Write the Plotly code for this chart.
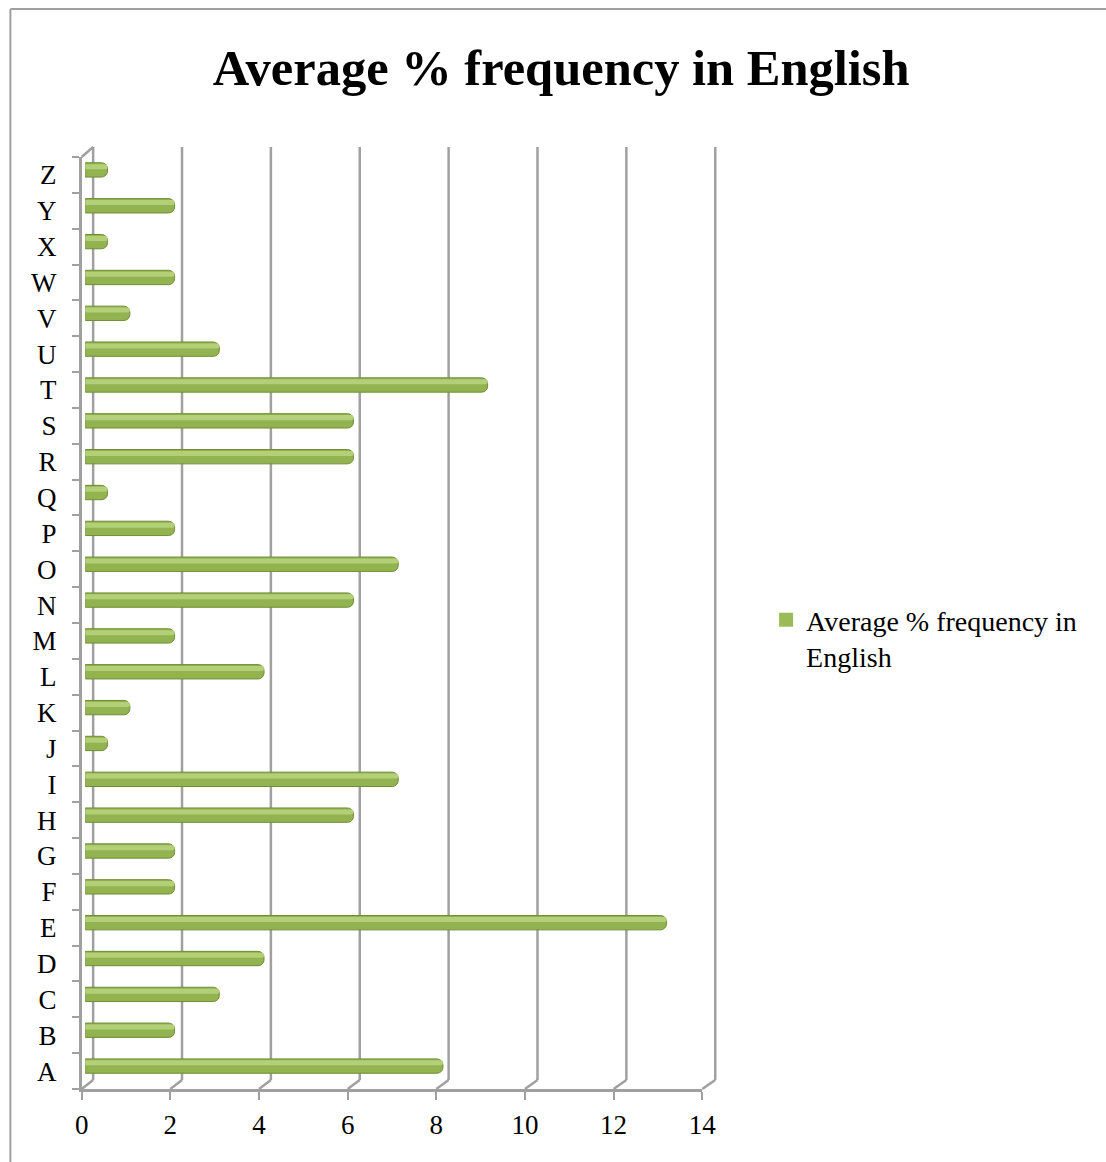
import plotly.graph_objects as go

letters = list("ABCDEFGHIJKLMNOPQRSTUVWXYZ")
freq = [8, 2, 3, 4, 13, 2, 2, 6, 7, 0.5, 1, 4, 2, 6, 7, 2, 0.5, 6, 6, 9, 3, 1, 2, 0.5, 2, 0.5]
x_ticks = [0, 2, 4, 6, 8, 10, 12, 14]

W, H = 1106, 1162
FONT = "Liberation Serif"
GRID = "#a0a0a0"

# horizontal calibration of the capture (image x = SX * page x + DX)
SX, DX = 0.984, 5.6


def px(img_x):
    return ((img_x - DX) / SX) / W


def py(img_y):
    return 1 - img_y / H


XMAX = 14
mid_x = (84, 712)
back_x = (92, 716)
front_x = (80.5, 703)
mid_y = (152, 1084)
back_y = (147, 1080)
front_y = (157, 1089)


def plane_x(v, plane):
    a, b = plane
    return a + (b - a) * v / XMAX


fig = go.Figure()
# cylinder body
fig.add_trace(go.Bar(
    x=freq, y=letters, orientation="h", xaxis="x", yaxis="y",
    width=0.40, marker=dict(color="#93b350", line=dict(color="#6f8d33", width=1), cornerradius=6),
    showlegend=False, hoverinfo="skip",
))
# cylinder highlight
fig.add_trace(go.Bar(
    x=freq, y=letters, orientation="h", xaxis="x", yaxis="y",
    width=0.14, offset=0.02, marker=dict(color="#b3cf78", line=dict(width=0), cornerradius=4),
    showlegend=False, hoverinfo="skip",
))
# legend entry
fig.add_trace(go.Scatter(
    x=[None], y=[None], xaxis="x", yaxis="y", mode="markers",
    marker=dict(color="#9bbb59", symbol="square", size=14, line=dict(width=0)),
    name="Average % frequency in<br>English", showlegend=True,
))
# back wall axis carrier
fig.add_trace(go.Scatter(x=[0, XMAX], y=[0, 1], xaxis="x2", yaxis="y2", mode="markers",
                         marker=dict(opacity=0), showlegend=False, hoverinfo="skip"))
# front axis carrier
fig.add_trace(go.Scatter(x=[0] * len(letters), y=letters, xaxis="x3", yaxis="y3", mode="markers",
                         marker=dict(opacity=0), showlegend=False, hoverinfo="skip"))

shapes = []
# chart frame (left and top edges)
shapes.append(dict(type="line", xref="paper", yref="paper", x0=px(9), x1=px(9), y0=py(9), y1=-0.1,
                   line=dict(color="#a0a0a0", width=2)))
shapes.append(dict(type="line", xref="paper", yref="paper", x0=px(9), x1=1.1, y0=py(9), y1=py(9),
                   line=dict(color="#a0a0a0", width=2)))
# back wall gridlines + floor diagonals
for v in x_ticks:
    bx = plane_x(v, back_x)
    fx = plane_x(v, front_x)
    shapes.append(dict(type="line", xref="paper", yref="paper", x0=px(bx), x1=px(bx),
                       y0=py(back_y[0]), y1=py(back_y[1]), line=dict(color=GRID, width=2.5), layer="below"))
    shapes.append(dict(type="line", xref="paper", yref="paper", x0=px(bx), x1=px(fx),
                       y0=py(back_y[1]), y1=py(front_y[1]), line=dict(color=GRID, width=2.5), layer="below"))
# top-left wall diagonal
shapes.append(dict(type="line", xref="paper", yref="paper", x0=px(front_x[0]), x1=px(back_x[0]),
                   y0=py(front_y[0]), y1=py(back_y[0]), line=dict(color=GRID, width=2.5), layer="below"))

fig.update_layout(
    width=W, height=H,
    margin=dict(l=0, r=0, t=0, b=0),
    paper_bgcolor="white", plot_bgcolor="rgba(0,0,0,0)",
    barmode="overlay",
    font=dict(family=FONT, color="black"),
    title=dict(text="<b>Average % frequency in English</b>", x=px(561.5), y=py(67), xref="paper", yref="paper",
               xanchor="center", yanchor="middle", font=dict(family=FONT, size=50.5, color="black")),
    xaxis=dict(domain=[px(mid_x[0]), px(mid_x[1])], range=[0, XMAX], anchor="y",
               showgrid=False, zeroline=False, showticklabels=False, showline=False),
    yaxis=dict(domain=[py(mid_y[1]), py(mid_y[0])], range=[-0.5, 25.5], anchor="x",
               type="category", categoryarray=letters, showgrid=False, showticklabels=False, showline=False),
    xaxis2=dict(domain=[px(back_x[0]), px(back_x[1])], range=[0, XMAX], anchor="y2", overlaying="x",
                showgrid=False, zeroline=False, showticklabels=False, showline=False),
    yaxis2=dict(domain=[py(back_y[1]), py(back_y[0])], range=[0, 1], anchor="x2",
                showgrid=False, zeroline=False, showticklabels=False, showline=False),
    xaxis3=dict(domain=[px(front_x[0]), px(front_x[1])], range=[0, XMAX], anchor="y3",
                tickvals=x_ticks, ticks="outside", ticklen=8, tickwidth=2, tickcolor=GRID,
                showline=True, linecolor=GRID, linewidth=2.5, showgrid=False, zeroline=False,
                ticklabelstandoff=2, tickfont=dict(family=FONT, size=27, color="black")),
    yaxis3=dict(domain=[py(front_y[1]), py(front_y[0])], range=[-0.5, 25.5], anchor="x3",
                type="category", categoryarray=letters, tickson="boundaries",
                ticks="outside", ticklen=7, tickwidth=2, tickcolor=GRID,
                showline=True, linecolor=GRID, linewidth=2.5, showgrid=False,
                ticklabelstandoff=17, tickfont=dict(family=FONT, size=27, color="black")),
    legend=dict(x=px(767), y=py(595), xanchor="left", yanchor="top", valign="top",
                font=dict(family=FONT, size=28, color="black"), bgcolor="rgba(0,0,0,0)",
                itemwidth=30, tracegroupgap=0),
    shapes=shapes,
)

fig.write_html(
    "out.html",
    config={"displayModeBar": False},
    post_script="document.body.style.margin='0';document.body.style.overflow='hidden';",
)
